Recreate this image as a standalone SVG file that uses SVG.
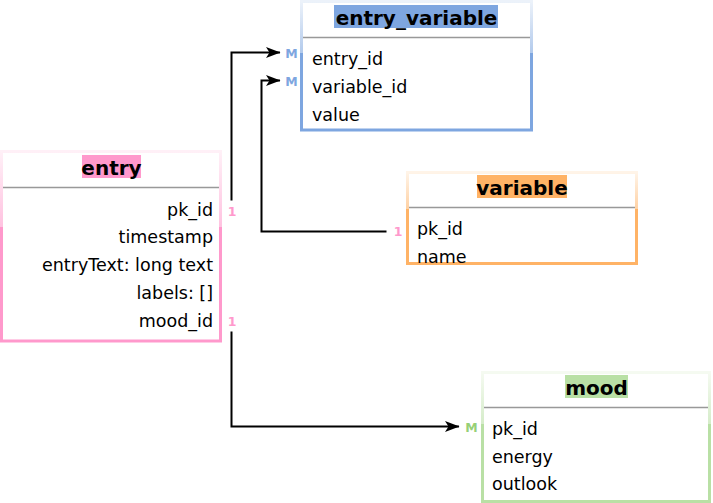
<svg xmlns="http://www.w3.org/2000/svg" width="713" height="503" viewBox="0 0 713 503">
<style>
.box{fill:#fff;stroke-width:3}
.sep{stroke:#999;stroke-width:1.5}
.title{font-family:"DejaVu Sans",Verdana,sans-serif;font-size:20px;font-weight:bold;fill:#000;text-anchor:middle}
.field{font-family:"DejaVu Sans",Verdana,sans-serif;font-size:17.5px;fill:#000}
.card{font-family:"DejaVu Sans",Verdana,sans-serif;font-size:12.5px;font-weight:bold;text-anchor:middle}
.conn{fill:none;stroke:#000;stroke-width:2}
</style>
<defs>
<linearGradient id="gPink" x1="0" y1="0" x2="0" y2="1"><stop offset="0" stop-color="#FFF0F7"/><stop offset="0.4" stop-color="#FFC2E0"/><stop offset="0.4" stop-color="#FF99CC"/><stop offset="1" stop-color="#FF99CC"/></linearGradient>
<linearGradient id="gBlue" x1="0" y1="0" x2="0" y2="1"><stop offset="0" stop-color="#ECF2FA"/><stop offset="0.4" stop-color="#B2CAEC"/><stop offset="0.4" stop-color="#7EA6E0"/><stop offset="1" stop-color="#7EA6E0"/></linearGradient>
<linearGradient id="gOrange" x1="0" y1="0" x2="0" y2="1"><stop offset="0" stop-color="#FFF4E8"/><stop offset="0.4" stop-color="#FFD1A3"/><stop offset="0.4" stop-color="#FFB366"/><stop offset="1" stop-color="#FFB366"/></linearGradient>
<linearGradient id="gGreen" x1="0" y1="0" x2="0" y2="1"><stop offset="0" stop-color="#F5FAF1"/><stop offset="0.4" stop-color="#D5ECC9"/><stop offset="0.4" stop-color="#B9E0A5"/><stop offset="1" stop-color="#B9E0A5"/></linearGradient>
<marker id="arr" markerUnits="userSpaceOnUse" markerWidth="16" markerHeight="12" refX="14" refY="6" orient="auto"><path d="M0,0.5 L14.5,6 L0,11.5 L3.5,6 Z" fill="#000"/></marker>
</defs>

<g id="connectors">
<path class="conn" d="M231.5,200.5 V52.5 H280" marker-end="url(#arr)"/>
<path class="conn" d="M386.5,231.5 H261.5 V80.5 H280" marker-end="url(#arr)"/>
<path class="conn" d="M231.5,331.5 V426.5 H459" marker-end="url(#arr)"/>
<text class="card" x="232" y="216" fill="#FF99CC">1</text>
<text class="card" x="232" y="326" fill="#FF99CC">1</text>
<text class="card" x="398" y="236" fill="#FF99CC">1</text>
<text class="card" x="291.5" y="57.5" fill="#7EA6E0">M</text>
<text class="card" x="291.5" y="85.5" fill="#7EA6E0">M</text>
<text class="card" x="471.5" y="431.5" fill="#97D077">M</text>
</g>

<g id="entry_variable">
<rect class="box" x="301.5" y="1.5" width="230" height="128.5" stroke="url(#gBlue)"/>
<line class="sep" x1="303" y1="37.5" x2="530" y2="37.5"/>
<rect x="334" y="5" width="164" height="23" fill="#7EA6E0"/>
<text class="title" x="416.5" y="25">entry_variable</text>
<text class="field" x="312" y="65">entry_id</text>
<text class="field" x="312" y="92.5">variable_id</text>
<text class="field" x="312" y="120.5">value</text>
</g>

<g id="entry">
<rect class="box" x="1.5" y="151.5" width="219" height="189.5" stroke="url(#gPink)"/>
<line class="sep" x1="3" y1="187.5" x2="219" y2="187.5"/>
<rect x="82" y="155" width="59" height="23" fill="#FF99CC"/>
<text class="title" x="111.5" y="175">entry</text>
<g text-anchor="end">
<text class="field" x="213" y="215.7">pk_id</text>
<text class="field" x="213" y="243.3">timestamp</text>
<text class="field" x="213" y="271">entryText: long text</text>
<text class="field" x="213" y="298.8">labels: []</text>
<text class="field" x="213" y="326.5">mood_id</text>
</g>
</g>

<g id="variable">
<rect class="box" x="407.5" y="172.5" width="229" height="91" stroke="url(#gOrange)"/>
<line class="sep" x1="409" y1="207.5" x2="635" y2="207.5"/>
<rect x="477" y="175" width="90" height="23" fill="#FFB366"/>
<text class="title" x="522" y="195">variable</text>
<text class="field" x="417" y="235">pk_id</text>
<text class="field" x="417" y="263">name</text>
</g>

<g id="mood">
<rect class="box" x="482.5" y="372.5" width="227" height="129" stroke="url(#gGreen)"/>
<line class="sep" x1="484" y1="407.5" x2="708" y2="407.5"/>
<rect x="565" y="375" width="63" height="23" fill="#B9E0A5"/>
<text class="title" x="596.5" y="395">mood</text>
<text class="field" x="492" y="435">pk_id</text>
<text class="field" x="492" y="463">energy</text>
<text class="field" x="492" y="490">outlook</text>
</g>
</svg>
